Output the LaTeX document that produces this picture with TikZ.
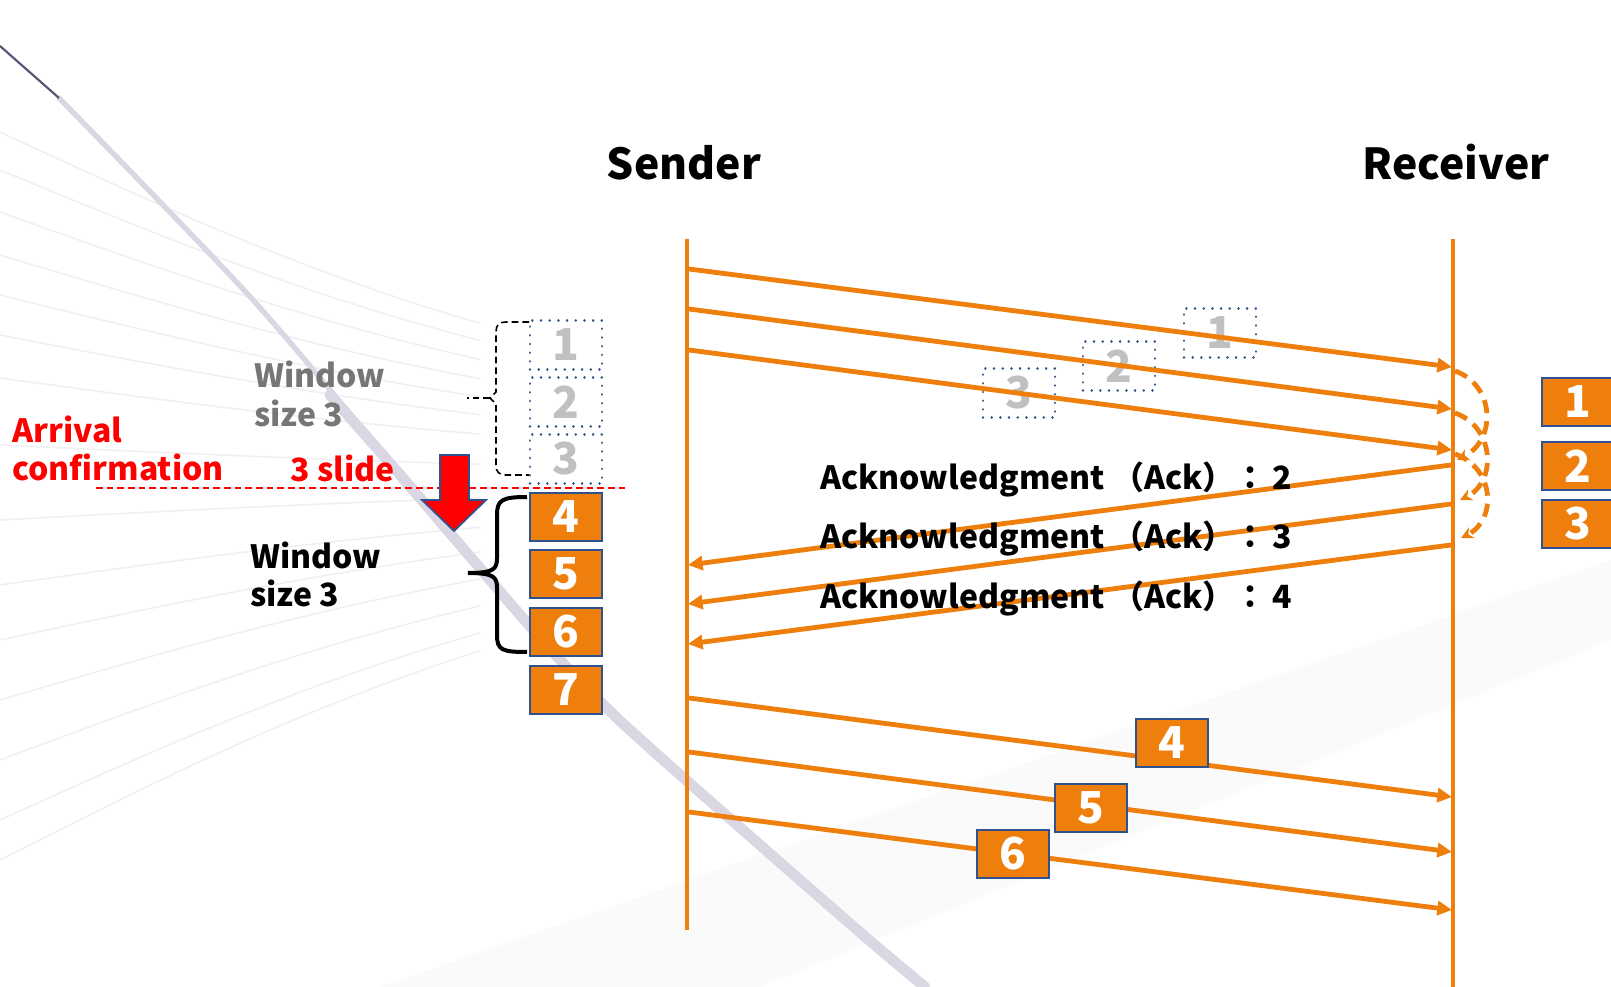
\documentclass[tikz,border=0pt]{standalone}
\usepackage{fontspec}
\setmainfont{Noto Sans CJK JP}
\usetikzlibrary{arrows.meta}
\definecolor{org}{RGB}{238,127,12}
\definecolor{bblue}{RGB}{47,82,143}
\definecolor{ghostgray}{RGB}{192,192,192}
\definecolor{wingray}{RGB}{118,118,118}
\definecolor{swoosh}{RGB}{218,214,228}
\definecolor{fanline}{RGB}{240,240,244}
\definecolor{pure}{RGB}{255,0,0}
\begin{document}
\begin{tikzpicture}[x=0.75pt,y=-0.75pt,
  lifeline/.style={draw=org,line width=3.4pt},
  msg/.style={draw=org,line width=3.6pt,-{Triangle[length=11pt,width=10.5pt]}},
  loopback/.style={draw=org,line width=3.6pt,dash pattern=on 10pt off 6pt,-{Stealth[length=9pt,width=9pt]}},
  pkt/.style={draw=bblue,fill=org,line width=1.5pt,text=white,font=\bfseries\fontsize{33}{33}\selectfont,minimum width=54pt,minimum height=36pt,inner sep=0pt},
  ghost/.style={draw=bblue,line width=2pt,line cap=round,dash pattern=on 0.01pt off 6.5pt,text=ghostgray,font=\bfseries\fontsize{33}{33}\selectfont,minimum width=54pt,minimum height=37pt,inner sep=0pt},
  lbl/.style={font=\bfseries\fontsize{24}{28}\selectfont,inner sep=0pt,anchor=base west},
  title/.style={font=\bfseries\fontsize{32}{38}\selectfont,inner sep=0pt,anchor=base},
  fan/.style={draw=fanline,line width=1.2pt}
]
\useasboundingbox (0,0) rectangle (1611,987);
\fill[white] (0,0) rectangle (1611,987);

% background decoration
\fill[black!2] (380,987) -- (1611,560) -- (1611,640) -- (760,987) -- cycle;
\foreach \yy in {132,170,212,255,295,335,378,445,520,585,640,700,760,820,860}{
  \draw[fan] (0,\yy) .. controls (150,{\yy+(480-\yy)*0.2}) and (300,{\yy+(480-\yy)*0.4}) .. (480,{\yy+(480-\yy)*0.55});
}
\draw[draw=swoosh,line width=4pt,line cap=round] plot[smooth] coordinates {(59,98) (253,300) (402,477)};
\draw[draw=swoosh,line width=8pt,line cap=round] plot[smooth] coordinates {(330,395) (402,477) (536,633) (616,717) (760,845) (869,940) (925,987)};
\draw[draw={rgb,255:red,95;green,80;blue,115},line width=1.6pt] (0,46) -- (59,98);

% lifelines
\coordinate (stop) at (687,239);
\coordinate (sbot) at (687,930);
\coordinate (rtop) at (1453,239);
\coordinate (rbot) at (1453,990);
\draw[lifeline] (stop) -- (sbot);
\draw[lifeline] (rtop) -- (rbot);

\node[title] (sender) at (684,180) {Sender};
\node[title] (receiver) at (1456,180) {Receiver};

% ghost packets in flight
\node[ghost] (m1) at (1220,333) {1};
\node[ghost] (m2) at (1119,366) {2};
\node[ghost] (m3) at (1019,393) {3};

% send points and receive points
\coordinate (s1) at (689,269);
\coordinate (s2) at (689,309);
\coordinate (s3) at (689,350);
\coordinate (r1) at (1452,367);
\coordinate (r2) at (1452,409);
\coordinate (r3) at (1452,450);
\draw[msg] (s1) -- (r1);
\draw[msg] (s2) -- (r2);
\draw[msg] (s3) -- (r3);

% loopbacks at receiver
\coordinate (k1) at (1455,371);
\coordinate (k2) at (1455,413);
\coordinate (k3) at (1455,454);
\coordinate (e1) at (1457,460);
\coordinate (e2) at (1460,500);
\coordinate (e3) at (1461,538);
\draw[loopback] (k1) .. controls (1495,385) and (1497,440) .. (e1);
\draw[loopback] (k2) .. controls (1495,427) and (1497,482) .. (e2);
\draw[loopback] (k3) .. controls (1495,468) and (1497,520) .. (e3);

% acks
\coordinate (a1) at (1451,465);
\coordinate (a2) at (1451,504);
\coordinate (a3) at (1451,545);
\coordinate (t1) at (688,565);
\coordinate (t2) at (688,604);
\coordinate (t3) at (688,644);
\draw[msg] (a1) -- (t1);
\draw[msg] (a2) -- (t2);
\draw[msg] (a3) -- (t3);

\node[lbl] (ack2) at (820,490) {Acknowledgment （Ack）：\,2};
\node[lbl] (ack3) at (820,548) {Acknowledgment （Ack）：\,3};
\node[lbl] (ack4) at (820,608) {Acknowledgment （Ack）：\,4};

% second window sends
\coordinate (s4) at (689,698);
\coordinate (s5) at (689,752);
\coordinate (s6) at (689,812);
\coordinate (r4) at (1452,797);
\coordinate (r5) at (1452,852);
\coordinate (r6) at (1452,910);
\draw[msg] (s4) -- (r4);
\draw[msg] (s5) -- (r5);
\draw[msg] (s6) -- (r6);
\node[pkt] (b4) at (1172,743) {4};
\node[pkt] (b5) at (1091,808) {5};
\node[pkt] (b6) at (1013,854) {6};

% received packets at right
\node[pkt] (p1) at (1578,402) {1};
\node[pkt] (p2) at (1578,466) {2};
\node[pkt] (p3) at (1578,524) {3};

% sender window (left)
\node[ghost] (g1) at (566,345) {1};
\node[ghost] (g2) at (566,402) {2};
\node[ghost] (g3) at (566,459) {3};
\node[pkt] (w4) at (566,517) {4};
\node[pkt] (w5) at (566,574) {5};
\node[pkt] (w6) at (566,632) {6};
\node[pkt] (w7) at (566,690) {7};

% braces
\draw[black,line width=1.2pt,dash pattern=on 5pt off 3pt]
  (529,322) -- (506,322) .. controls (499,322) and (496,325) .. (496,332) -- (496,392) -- (490,398) -- (496,404) -- (496,465) .. controls (496,472) and (499,475) .. (506,475) -- (529,475);
\draw[black,line width=1.2pt,dash pattern=on 5pt off 3pt] (490,398) -- (467,398);
\draw[black,line width=3pt]
  (527,497) .. controls (502,497) and (497,500) .. (497,515) -- (497,558) .. controls (497,569) and (494,573) .. (468,573)
  .. controls (494,573) and (497,577) .. (497,588) -- (497,635) .. controls (497,650) and (502,652) .. (527,652);

% slide marker
\draw[pure,line width=1.1pt,dash pattern=on 5pt off 3pt] (96,488) -- (629,488);
\draw[fill=pure,draw=bblue,line width=1.3pt] (440,455) -- (469,455) -- (469,500) -- (486,500) -- (454,531) -- (422,500) -- (440,500) -- cycle;

% labels
\node[lbl,text=pure] (arr1) at (12,443) {Arrival};
\node[lbl,text=pure] (arr2) at (12,481) {confirmation};
\node[lbl,text=pure] (slide) at (290,482) {3 slide};
\node[lbl,text=wingray] (win1) at (254,388) {Window};
\node[lbl,text=wingray] (win2) at (254,427) {size 3};
\node[lbl] (win3) at (250,568) {Window};
\node[lbl] (win4) at (250,606) {size 3};
\end{tikzpicture}
\end{document}
